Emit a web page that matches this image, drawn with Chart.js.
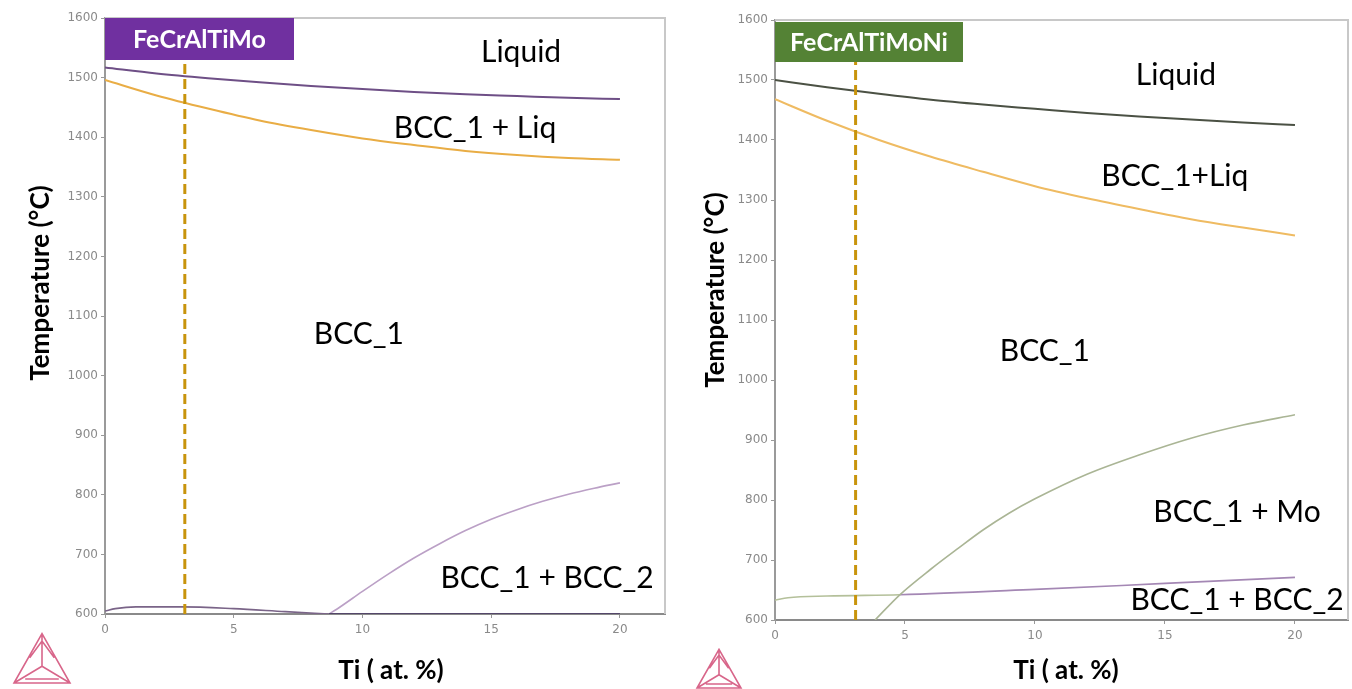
<!DOCTYPE html>
<html>
<head>
<meta charset="utf-8">
<script src="https://cdn.jsdelivr.net/npm/chart.js@4/dist/chart.umd.min.js"></script>
<style>
  html, body { margin: 0; padding: 0; background: #fff; }
  body { width: 1352px; height: 689px; position: relative; overflow: hidden; }
  canvas { position: absolute; top: 0; }
  #chart-mo { left: 0; }
  #chart-ni { left: 676px; }
</style>
</head>
<body>
<canvas id="chart-mo" width="676" height="689"></canvas>
<canvas id="chart-ni" width="676" height="689"></canvas>
<script>
// Ti content (at. %) vs temperature (°C), two isopleths.

const xTicks = [0, 5, 10, 15, 20];
const alloyTi = 3.1;

// FeCrAlTiMo
const moTi       = [0, 2, 4, 6, 8, 10, 12, 14, 16, 18, 20];
const moLiquidus = [1517, 1507, 1499, 1492, 1486, 1481, 1476, 1472, 1469, 1466, 1464];
const moSolidus  = [1496, 1470, 1448, 1428, 1412, 1398, 1387, 1377, 1370, 1365, 1362];
const moLowTi    = [0, 0.4, 1.2, 3, 5, 7, 8.7];
const moLowT     = [605, 609, 612, 612, 609, 604, 600];
const moBaseTi   = [8.7, 20];
const moBaseT    = [600, 600];
const moBcc2Ti   = [8.7, 9, 10, 11, 12, 13, 14, 15, 16, 17, 18, 19, 20];
const moBcc2T    = [600, 608, 638, 667, 694, 718, 740, 759, 775, 789, 801, 811, 820];
const moLabels   = ['Liquid', 'BCC_1 + Liq', 'BCC_1', 'BCC_1 + BCC_2'];
const moLabelAt  = [[16.16, 1543], [14.37, 1415], [9.86, 1070], [17.17, 660]];

// FeCrAlTiMoNi
const niTi       = [0, 2, 4, 6, 8, 10, 12, 14, 16, 18, 20];
const niLiquidus = [1500, 1488, 1477, 1467, 1459, 1452, 1445, 1439, 1434, 1429, 1425];
const niSolidus  = [1468, 1432, 1400, 1372, 1347, 1323, 1303, 1285, 1268, 1254, 1241];
const niMoTi     = [3.85, 4.8, 6, 7, 8, 9, 10, 12, 14, 16, 18, 20];
const niMoT      = [600, 642, 685, 718, 750, 778, 802, 843, 875, 903, 925, 942];
const niBcc2Ti   = [0, 0.5, 2, 4.8, 10, 15, 20];
const niBcc2T    = [633, 637, 640, 642, 651, 661, 671];
const niLabels   = ['Liquid', 'BCC_1+Liq', 'BCC_1', 'BCC_1 + Mo', 'BCC_1 + BCC_2'];
const niLabelAt  = [[15.42, 1507], [15.38, 1340], [10.38, 1047], [17.77, 780], [17.77, 633]];

const pts = (xs, ys) => xs.map((x, i) => ({ x, y: ys[i] }));

function curve(data, color, width) {
  return {
    data, borderColor: color, borderWidth: width || 2,
    pointRadius: 0, fill: false, cubicInterpolationMode: 'monotone',
  };
}

function dashed(top) {
  return {
    data: [{ x: alloyTi, y: 600 }, { x: alloyTi, y: top }],
    borderColor: '#c8940c', borderWidth: 3, borderDash: [10, 5],
    pointRadius: 0, fill: false,
  };
}

// labels, name box, axis titles, frame and logo
const decor = {
  id: 'decor',
  afterDatasetsDraw(chart, args, o) {
    const { ctx, chartArea: a, scales: { x, y } } = chart;
    ctx.save();
    // frame top / right
    ctx.strokeStyle = '#c8c8c8';
    ctx.lineWidth = 2;
    ctx.beginPath();
    ctx.moveTo(a.left, a.top); ctx.lineTo(a.right, a.top); ctx.lineTo(a.right, a.bottom);
    ctx.stroke();

    // region labels
    ctx.fillStyle = '#000';
    ctx.font = '30px Lato';
    ctx.textAlign = 'center';
    ctx.textBaseline = 'middle';
    o.labels.forEach((t, i) => {
      ctx.fillText(t, x.getPixelForValue(o.labelAt[i][0]), y.getPixelForValue(o.labelAt[i][1]));
    });

    // alloy name box
    ctx.fillStyle = o.boxColor;
    ctx.fillRect(a.left, o.box[1], o.box[0], o.box[2]);
    ctx.fillStyle = '#fff';
    ctx.font = 'bold 25px Lato';
    ctx.fillText(o.name, a.left + o.box[0] / 2, o.box[1] + o.box[2] / 2 + 1);

    // axis titles
    ctx.fillStyle = '#000';
    ctx.font = 'bold 26px Lato';
    ctx.fillText('Ti ( at. %)', o.xTitle[0], o.xTitle[1]);
    ctx.translate(o.yTitle[0], o.yTitle[1]);
    ctx.rotate(-Math.PI / 2);
    ctx.fillText('Temperature (°C)', 0, 0);
    ctx.restore();

    // logo
    const [lx, ly, s] = o.logo;
    const P = [[lx, ly], [lx + s, ly], [lx + s / 2, ly - s * 0.88]];
    const c = [lx + s / 2, ly - s * 0.3];
    ctx.save();
    ctx.strokeStyle = '#d8668a';
    ctx.lineWidth = 1.6;
    ctx.beginPath();
    ctx.moveTo(...P[0]); ctx.lineTo(...P[1]); ctx.lineTo(...P[2]); ctx.closePath();
    P.forEach(p => { ctx.moveTo(...p); ctx.lineTo(...c); });
    ctx.moveTo(lx + s * 0.2, ly - 4); ctx.lineTo(lx + s * 0.8, ly - 4);
    ctx.moveTo(lx + s * 0.28, ly - s * 0.45); ctx.lineTo(lx + s / 2, ly - s * 0.75);
    ctx.lineTo(lx + s * 0.72, ly - s * 0.45);
    ctx.stroke();
    ctx.restore();
  },
};

function makeChart(id, datasets, xMax, pad, yWidth, xHeight, decorOpts) {
  return new Chart(document.getElementById(id), {
    type: 'line',
    data: { datasets },
    options: {
      responsive: false,
      animation: false,
      layout: { padding: pad },
      plugins: { legend: { display: false }, tooltip: { enabled: false }, decor: decorOpts },
      scales: {
        x: {
          type: 'linear', min: 0, max: xMax,
          afterBuildTicks: s => { s.ticks = xTicks.map(v => ({ value: v })); },
          afterFit: s => { s.height = xHeight; },
          border: { color: '#8a8a8a', width: 2 },
          grid: { drawOnChartArea: false, tickLength: 4, color: '#999' },
          ticks: { color: '#8a8a8a', font: { family: 'DejaVu Sans', size: 12 }, padding: 5,
                   callback: v => String(v) },
        },
        y: {
          min: 600, max: 1600,
          afterFit: s => { s.width = yWidth; },
          border: { color: '#9a9a9a', width: 2 },
          grid: { drawOnChartArea: false, tickLength: 4, color: '#999' },
          ticks: { stepSize: 100, color: '#8a8a8a', font: { family: 'DejaVu Sans', size: 12 }, padding: 3,
                   callback: v => String(v) },
        },
      },
    },
    plugins: [decor],
  });
}

makeChart('chart-mo', [
  dashed(1560),
  curve(pts(moTi, moLiquidus), '#6e4f86', 2),
  curve(pts(moTi, moSolidus), '#e9ad45', 2),
  curve(pts(moLowTi, moLowT), '#7a6488', 1.6),
  curve(pts(moBaseTi, moBaseT), '#54476a', 2),
  curve(pts(moBcc2Ti, moBcc2T), '#bba0c6', 1.6),
], 21.75, { left: 0, top: 18, right: 11, bottom: 0 }, 105, 75, {
  labels: moLabels, labelAt: moLabelAt,
  name: 'FeCrAlTiMo', boxColor: '#7030a0', box: [189, 18, 42],
  xTitle: [391, 671], yTitle: [41, 283], logo: [14, 683, 56],
});

makeChart('chart-ni', [
  dashed(1560),
  curve(pts(niTi, niLiquidus), '#4b5144', 2),
  curve(pts(niTi, niSolidus), '#efbb62', 2),
  curve(pts(niMoTi, niMoT), '#aab595', 1.6),
  {
    ...curve(pts(niBcc2Ti, niBcc2T), '#a487b4', 1.6),
    segment: { borderColor: c => c.p0.parsed.x < 4.8 ? '#b4c09a' : '#a487b4' },
  },
], 22.04, { left: 0, top: 20, right: 4, bottom: 0 }, 99, 69, {
  labels: niLabels, labelAt: niLabelAt,
  name: 'FeCrAlTiMoNi', boxColor: '#548235', box: [188, 22, 40],
  xTitle: [1066 - 676, 671], yTitle: [716 - 676, 290], logo: [21, 688, 44],
});
</script>
</body>
</html>
